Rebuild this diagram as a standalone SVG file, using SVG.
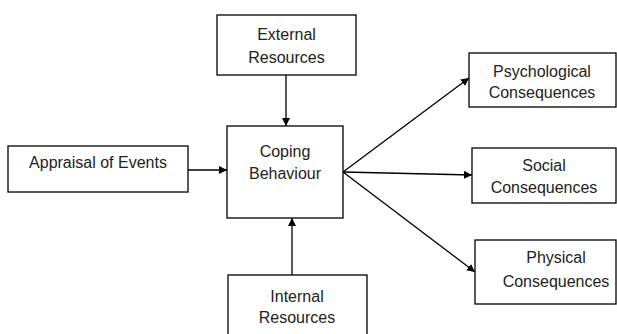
<svg xmlns="http://www.w3.org/2000/svg" width="617" height="334" viewBox="0 0 617 334">
<defs>
<style>
.box{fill:#fff;stroke:#000;stroke-width:1.3}
.t{font-family:"Liberation Sans",Arial,sans-serif;font-size:16px;fill:#222;text-anchor:middle}
.c{stroke:#000;stroke-width:1.3;fill:none;marker-end:url(#ah)}
</style>
<marker id="ah" viewBox="0 0 10 10" refX="10" refY="5" markerWidth="8" markerHeight="8" markerUnits="userSpaceOnUse" orient="auto">
<path d="M0,0 L10,5 L0,10 z" fill="#000"/>
</marker>
</defs>
<rect width="617" height="334" fill="#fff"/>
<g id="connectors">
<line class="c" x1="286" y1="75" x2="286" y2="126"/>
<line class="c" x1="188" y1="170" x2="227" y2="170"/>
<line class="c" x1="292" y1="275" x2="292" y2="218"/>
<line class="c" x1="343" y1="172" x2="469" y2="78"/>
<line class="c" x1="343" y1="172" x2="472" y2="175"/>
<line class="c" x1="343" y1="172" x2="475" y2="272"/>
</g>
<g id="external">
<rect class="box" x="217" y="15" width="139" height="60"/>
<text class="t" x="286.5" y="40">External</text>
<text class="t" x="286.5" y="63">Resources</text>
</g>
<g id="appraisal">
<rect class="box" x="8" y="146" width="180" height="46"/>
<text class="t" x="98" y="168">Appraisal of Events</text>
</g>
<g id="coping">
<rect class="box" x="227" y="126" width="116" height="92"/>
<text class="t" x="285" y="157">Coping</text>
<text class="t" x="285" y="179">Behaviour</text>
</g>
<g id="internal">
<rect class="box" x="228" y="275" width="139" height="70"/>
<text class="t" x="297" y="302">Internal</text>
<text class="t" x="297" y="323">Resources</text>
</g>
<g id="psychological">
<rect class="box" x="469" y="53" width="147" height="54"/>
<text class="t" x="542" y="77">Psychological</text>
<text class="t" x="542" y="98">Consequences</text>
</g>
<g id="social">
<rect class="box" x="472" y="148" width="144" height="55"/>
<text class="t" x="544" y="171">Social</text>
<text class="t" x="544" y="193">Consequences</text>
</g>
<g id="physical">
<rect class="box" x="475" y="240" width="141" height="64"/>
<text class="t" x="556" y="263">Physical</text>
<text class="t" x="556" y="287">Consequences</text>
</g>
</svg>
